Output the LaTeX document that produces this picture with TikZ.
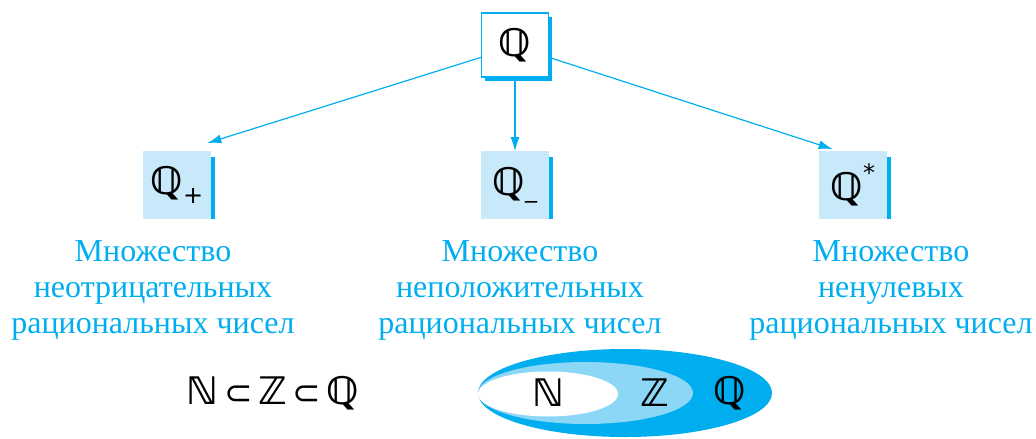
\documentclass[tikz,border=0pt]{standalone}
\usepackage{fontspec}
\setmainfont{Liberation Serif}
\newfontfamily\bbfont{DejaVu Sans}
\usetikzlibrary{arrows.meta,positioning,shapes.geometric}
\definecolor{SetCyan}{RGB}{0,174,239}
\definecolor{SetLight}{RGB}{200,233,249}
\definecolor{SetMid}{RGB}{140,214,246}
\newcommand{\subsetsym}{{\fontsize{17}{17}\selectfont\,⊂\,}}

\begin{document}
\begin{tikzpicture}[x=0.5pt,y=-0.5pt,
  topbox/.style={draw=SetCyan,fill=white,line width=0.6pt,
                 minimum width=33.5pt,minimum height=32pt,inner sep=0pt,font=\bbfont\bfseries\fontsize{19}{20}\selectfont},
  setbox/.style={fill=SetLight,minimum width=34pt,minimum height=33.5pt,
                 inner sep=0pt,font=\bbfont\bfseries\fontsize{19}{20}\selectfont},
  setlbl/.style={align=center,text=SetCyan,font=\fontsize{16}{18}\selectfont},
  bblbl/.style={font=\bbfont\bfseries\fontsize{19}{20}\selectfont},
  link/.style={draw=SetCyan,line width=0.6pt,-{Latex[length=7pt,width=4.5pt]}},
]
\useasboundingbox (0,0) rectangle (1036,438);
% top set with shadow
\fill[SetCyan] (485,17) rectangle (552,81);
\node[topbox] (qtop) at (515,45) {ℚ};
% the three subsets
\node[setbox] (qpos) at (177,185) {ℚ\raisebox{-0.45ex}{\mdseries\fontsize{12}{12}\selectfont +}};
\node[setbox] (qneg) at (515,185) {ℚ\raisebox{-0.1ex}{\mdseries\fontsize{12}{12}\selectfont \_}};
\node[setbox] (qstar) at (853,185) {ℚ\raisebox{0.9ex}{\mdseries\fontsize{12}{12}\selectfont *}};
\foreach \n in {qpos,qneg,qstar}
  \fill[SetCyan] ([yshift=-3pt]\n.north east) rectangle ([xshift=2pt]\n.south east);
\draw[link] (qtop.200) -- ([xshift=-2pt,yshift=4pt]qpos.north east);
\draw[link] (qtop.south) -- (qneg.north);
\draw[link] (qtop.-20) -- ([xshift=7pt,yshift=1pt]qstar.north west);
% captions
\node[setlbl] (lpos) at (153,290) {Множество\\неотрицательных\\рациональных чисел};
\node[setlbl] (lneg) at (520,290) {Множество\\неположительных\\рациональных чисел};
\node[setlbl] (lstar) at (891,290) {Множество\\ненулевых\\рациональных чисел};
% inclusion
\node[bblbl] (incl) at (273,393) {ℕ{\mdseries\subsetsym}ℤ{\mdseries\subsetsym}ℚ};
\fill[SetCyan] (625,393) ellipse [x radius=73.5pt,y radius=22pt];
\fill[SetMid] (585.5,393) ellipse [x radius=53.75pt,y radius=15.5pt];
\fill[white] (548,394) ellipse [x radius=35pt,y radius=11.25pt];
\node[bblbl] (nn) at (548,393) {ℕ};
\node[bblbl] (zz) at (655,393) {ℤ};
\node[bblbl] (qq) at (730,393) {ℚ};
\end{tikzpicture}
\end{document}
